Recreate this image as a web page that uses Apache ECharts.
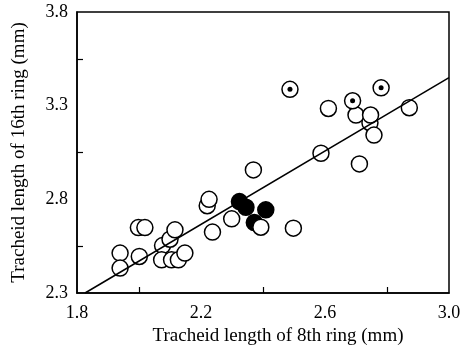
<!DOCTYPE html>
<html>
<head>
<meta charset="utf-8">
<script src="https://cdn.jsdelivr.net/npm/echarts@6/dist/echarts.min.js"></script>
<style>
html, body { margin: 0; padding: 0; background: #fff; }
#main { width: 463px; height: 345px; }
</style>
</head>
<body>
<div id="main"></div>
<script>
// axis ranges and label steps
var xRange = [1.8, 3.0];
var xLabelStep = 0.4;
var yRange = [2.3, 3.8];
var yLabelStep = 0.5;

// open circles
var openPoints = [
    [1.939, 2.513], [1.939, 2.433], [2.001, 2.495], [1.998, 2.649],
    [2.019, 2.649], [2.076, 2.553], [2.100, 2.587], [2.116, 2.637],
    [2.073, 2.477], [2.105, 2.477], [2.127, 2.477], [2.148, 2.513],
    [2.220, 2.766], [2.226, 2.800], [2.237, 2.625], [2.299, 2.696],
    [2.369, 2.957], [2.393, 2.651], [2.498, 2.646], [2.587, 3.046],
    [2.611, 3.285], [2.700, 3.250], [2.711, 2.989], [2.745, 3.209],
    [2.747, 3.250], [2.758, 3.143], [2.872, 3.289]
];
// filled circles
var filledPoints = [
    [2.324, 2.788], [2.345, 2.758], [2.372, 2.676], [2.409, 2.744]
];
// circles with a dot
var dottedPoints = [
    [2.487, 3.387], [2.689, 3.326], [2.781, 3.395]
];
// regression line end points
var lineX = [1.826, 3.0];
var lineY = [2.3, 3.45];

var font = 'Liberation Serif';
var chart = echarts.init(document.getElementById('main'));

var linePoints = lineX.map(function (x, i) { return [x, lineY[i]]; });

chart.setOption({
    animation: false,
    backgroundColor: '#fff',
    grid: {
        left: 77, right: 14, top: 12, bottom: 52,
        outerBoundsMode: 'none',
        show: true, borderColor: '#000', borderWidth: 1.5
    },
    xAxis: {
        type: 'value', min: xRange[0], max: xRange[1], interval: xLabelStep,
        name: 'Tracheid length of 8th ring (mm)',
        nameLocation: 'middle', nameGap: 32,
        nameTextStyle: { fontFamily: font, fontSize: 19, color: '#000', padding: [0, 0, 0, 30] },
        axisLine: { lineStyle: { color: '#000', width: 1.5 } },
        axisTick: { show: true, inside: true, length: 0, lineStyle: { color: '#000', width: 1.2 } },
        minorTick: { show: true, splitNumber: 2, length: 6, lineStyle: { color: '#000', width: 1.2 } },
        axisLabel: {
            margin: 11,
            fontFamily: font, fontSize: 18, color: '#000',
            formatter: function (v) { return v.toFixed(1); }
        },
        splitLine: { show: false }
    },
    yAxis: {
        type: 'value', min: yRange[0], max: yRange[1], interval: yLabelStep,
        name: 'Tracheid length of 16th ring (mm)',
        nameLocation: 'middle', nameGap: 48,
        nameTextStyle: { fontFamily: font, fontSize: 19, color: '#000' },
        axisLine: { show: true, lineStyle: { color: '#000', width: 1.5 } },
        axisTick: { show: true, inside: true, length: 0, lineStyle: { color: '#000', width: 1.2 } },
        minorTick: { show: true, splitNumber: 2, length: 6, lineStyle: { color: '#000', width: 1.2 } },
        axisLabel: {
            margin: 9,
            fontFamily: font, fontSize: 18, color: '#000',
            formatter: function (v) { return v.toFixed(1); }
        },
        splitLine: { show: false }
    },
    series: [
        {
            type: 'scatter', data: filledPoints, symbolSize: 16, z: 1,
            itemStyle: { color: '#000', borderColor: '#000', borderWidth: 1.5, opacity: 1 }
        },
        {
            type: 'scatter', data: openPoints, symbolSize: 16, z: 2,
            itemStyle: { color: '#fff', borderColor: '#000', borderWidth: 1.5, opacity: 1 }
        },
        {
            type: 'scatter', data: dottedPoints, symbolSize: 16, z: 2,
            itemStyle: { color: '#fff', borderColor: '#000', borderWidth: 1.5, opacity: 1 }
        },
        {
            type: 'line', data: linePoints, symbol: 'none', z: 3,
            lineStyle: { color: '#000', width: 1.5 }
        },
        {
            type: 'scatter', data: dottedPoints, symbolSize: 5, z: 4,
            itemStyle: { color: '#000', opacity: 1 }
        }
    ]
});
</script>
</body>
</html>
